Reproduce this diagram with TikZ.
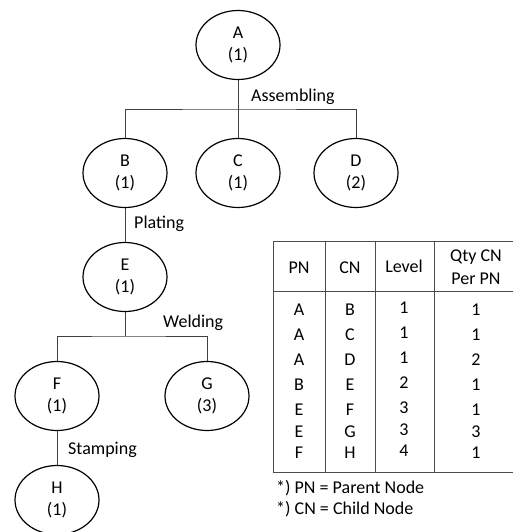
\documentclass[tikz,border=0pt]{standalone}
\usepackage{fontspec}
\setmainfont{Carlito}
\usetikzlibrary{shapes.geometric}
\begin{document}
\begin{tikzpicture}[x=1pt,y=-1pt,
  part/.style={ellipse,draw,line width=1.2pt,minimum width=84pt,minimum height=69pt,
    inner sep=0pt,align=center,font=\fontsize{18}{22}\selectfont},
  link/.style={draw=black!75,line width=0.9pt},
  proc/.style={anchor=base west,inner sep=0pt,font=\fontsize{18}{20}\selectfont},
  grid/.style={draw=black!70,line width=0.9pt},
  cell/.style={inner sep=0pt,font=\fontsize{18}{23}\selectfont,align=center}]
\useasboundingbox (0,0) rectangle (513,532);
\fill[white] (0,0) rectangle (513,532);

% product tree
\node[part] (A) at (238,45)  {A\\(1)};
\node[part] (B) at (125,173) {B\\(1)};
\node[part] (C) at (238,173) {C\\(1)};
\node[part] (D) at (356,173) {D\\(2)};
\node[part] (E) at (125,277) {E\\(1)};
\node[part] (F) at (57,396)  {F\\(1)};
\node[part] (G) at (207,396) {G\\(3)};
\node[part] (H) at (57,500)  {H\\(1)};

\coordinate (busA) at (238,109);
\coordinate (busE) at (125,336);

\draw[link] (A.south) -- (C.north);
\draw[link] (B.north) |- (busA) -| (D.north);
\draw[link] (B.south) -- (E.north);
\draw[link] (E.south) -- (busE);
\draw[link] (F.north) |- (busE) -| (G.north);
\draw[link] (F.south) -- (H.north);

\node[proc] (lblA) at (251,102) {Assembling};
\node[proc] (lblB) at (134,228) {Plating};
\node[proc] (lblE) at (163,327) {Welding};
\node[proc] (lblF) at (68,454)  {Stamping};

% bill-of-materials table
\draw[grid] (273,241) -- (513,241);
\draw[grid] (273,291) -- (513,291);
\draw[grid] (273,472) -- (513,472);
\foreach \cx in {273,325,375,434}
  \draw[grid] (\cx,241) -- (\cx,472);

\node[cell] (hPN) at (299,268) {PN};
\node[cell] (hCN) at (350,268) {CN};
\node[cell] (hLv) at (404,266) {Level};
\node[cell] (hQ)  at (476,267) {Qty CN\\Per PN};

\foreach \y/\p/\c/\l/\q in {310/A/B/1/1, 335/A/C/1/1, 360/A/D/1/2, 385/B/E/2/1,
                             410/E/F/3/1, 432/E/G/3/3, 453/F/H/4/1} {
  \node[cell] at (299,\y) {\p};
  \node[cell] at (350,\y) {\c};
  \node[cell] at (404,\y-2) {\l};
  \node[cell] at (476,\y) {\q};
}

\node[proc] (note1) at (276,493) {*) PN = Parent Node};
\node[proc] (note2) at (276,514) {*) CN = Child Node};
\end{tikzpicture}
\end{document}
